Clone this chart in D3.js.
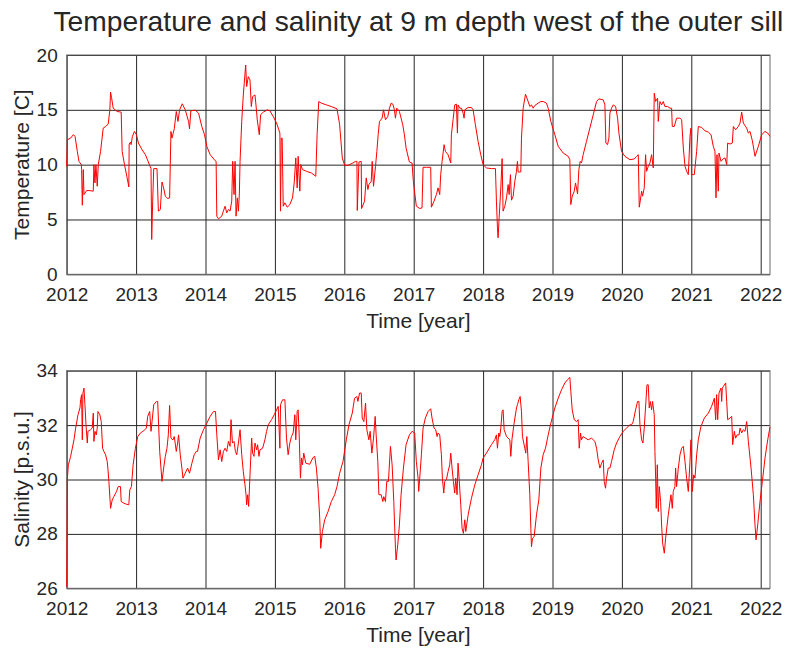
<!DOCTYPE html>
<html>
<head>
<meta charset="utf-8">
<script src="https://cdn.jsdelivr.net/npm/d3@7"></script>
<style>
  body { margin: 0; background: #fff; }
  text { font-family: "Liberation Sans", Arial, Helvetica, sans-serif; fill: #262626; }
</style>
</head>
<body>
<svg id="chart" width="787" height="652"></svg>
<script>
// Mooring record: [decimal year, value]
const temperature = [
[2012.000,9.85],[2012.010,12.27],[2012.057,12.42],[2012.096,12.73],[2012.120,12.58],[2012.153,11.21],[2012.177,10.30],[2012.211,10.00],[2012.215,9.55],[2012.225,6.30],[2012.239,9.55],[2012.249,7.27],[2012.287,7.64],[2012.321,7.64],[2012.383,7.58],[2012.392,10.00],[2012.407,8.33],[2012.421,10.00],[2012.440,8.03],[2012.455,10.00],[2012.488,11.21],[2012.526,13.33],[2012.560,13.48],[2012.598,13.70],[2012.622,15.00],[2012.632,16.61],[2012.646,16.12],[2012.670,15.15],[2012.727,14.85],[2012.785,14.79],[2012.799,11.21],[2012.833,10.00],[2012.871,8.79],[2012.895,7.97],[2012.900,11.88],[2012.919,12.06],[2012.928,11.82],[2012.947,12.58],[2012.976,13.03],[2013.005,12.73],[2013.033,11.97],[2013.086,11.36],[2013.134,10.91],[2013.182,10.15],[2013.215,9.64],[2013.225,3.18],[2013.239,6.67],[2013.254,9.64],[2013.301,9.64],[2013.321,5.76],[2013.349,5.91],[2013.373,8.42],[2013.397,7.88],[2013.421,7.12],[2013.455,6.91],[2013.483,6.97],[2013.502,13.03],[2013.517,12.42],[2013.550,13.27],[2013.579,14.85],[2013.603,13.94],[2013.627,15.00],[2013.665,15.55],[2013.708,15.00],[2013.756,13.94],[2013.770,13.27],[2013.789,14.91],[2013.852,14.97],[2013.900,14.70],[2013.947,13.48],[2013.986,12.73],[2014.019,11.67],[2014.067,10.91],[2014.139,10.36],[2014.153,10.30],[2014.163,5.30],[2014.187,5.06],[2014.234,5.30],[2014.258,5.76],[2014.282,6.21],[2014.306,5.61],[2014.330,5.91],[2014.354,5.76],[2014.378,6.67],[2014.392,10.30],[2014.411,7.27],[2014.426,10.30],[2014.440,5.30],[2014.459,6.97],[2014.474,5.76],[2014.488,7.33],[2014.498,10.30],[2014.522,13.94],[2014.545,16.36],[2014.579,19.09],[2014.593,17.12],[2014.617,18.03],[2014.641,17.73],[2014.660,15.30],[2014.679,16.21],[2014.713,16.36],[2014.727,15.45],[2014.746,14.09],[2014.775,12.73],[2014.794,14.55],[2014.833,14.79],[2014.890,15.00],[2014.928,14.91],[2014.976,14.39],[2015.024,13.79],[2015.072,12.88],[2015.081,5.76],[2015.091,12.42],[2015.105,12.42],[2015.120,6.21],[2015.144,6.52],[2015.177,6.12],[2015.215,6.36],[2015.254,6.97],[2015.278,8.33],[2015.301,10.61],[2015.321,7.88],[2015.335,10.76],[2015.359,7.58],[2015.373,10.00],[2015.397,9.55],[2015.455,9.39],[2015.526,9.24],[2015.589,8.94],[2015.608,12.73],[2015.632,15.76],[2015.670,15.61],[2015.742,15.45],[2015.813,15.30],[2015.895,15.09],[2015.933,13.64],[2015.971,10.61],[2016.005,9.94],[2016.053,9.94],[2016.124,10.15],[2016.163,10.30],[2016.182,10.30],[2016.187,5.82],[2016.211,10.24],[2016.244,10.30],[2016.249,6.00],[2016.292,6.67],[2016.316,8.79],[2016.340,7.73],[2016.354,8.18],[2016.388,8.48],[2016.402,10.30],[2016.421,8.03],[2016.450,9.85],[2016.469,11.21],[2016.488,12.73],[2016.507,13.94],[2016.545,14.24],[2016.565,15.00],[2016.593,14.09],[2016.627,14.39],[2016.651,15.15],[2016.675,15.61],[2016.699,15.52],[2016.722,15.00],[2016.737,14.24],[2016.756,15.15],[2016.794,14.85],[2016.842,13.64],[2016.866,12.73],[2016.890,11.52],[2016.938,10.24],[2016.976,10.15],[2016.995,8.48],[2017.038,6.21],[2017.087,6.00],[2017.120,6.06],[2017.135,9.76],[2017.183,9.76],[2017.245,9.76],[2017.255,6.12],[2017.293,6.67],[2017.327,7.27],[2017.351,7.88],[2017.375,7.27],[2017.389,9.09],[2017.409,10.30],[2017.438,11.82],[2017.457,11.21],[2017.495,10.91],[2017.534,10.15],[2017.543,12.73],[2017.567,14.09],[2017.591,15.45],[2017.615,15.52],[2017.630,12.88],[2017.639,15.45],[2017.663,15.15],[2017.688,15.15],[2017.712,14.70],[2017.726,14.24],[2017.736,15.00],[2017.784,15.21],[2017.832,15.21],[2017.856,15.00],[2017.889,13.64],[2017.928,12.12],[2017.966,10.91],[2018.000,10.00],[2018.048,9.70],[2018.120,9.64],[2018.178,9.64],[2018.192,6.67],[2018.207,4.24],[2018.216,3.33],[2018.231,5.15],[2018.255,7.88],[2018.274,10.55],[2018.288,5.76],[2018.313,6.21],[2018.337,6.97],[2018.361,8.18],[2018.375,7.27],[2018.394,9.09],[2018.409,6.76],[2018.433,7.12],[2018.457,8.48],[2018.481,9.39],[2018.495,10.30],[2018.505,9.33],[2018.543,9.33],[2018.553,12.42],[2018.577,15.15],[2018.611,16.42],[2018.649,15.76],[2018.673,15.30],[2018.697,15.45],[2018.721,15.15],[2018.745,15.39],[2018.793,15.61],[2018.832,15.76],[2018.865,15.76],[2018.913,15.61],[2018.938,15.15],[2018.976,13.94],[2019.034,12.73],[2019.082,11.67],[2019.154,11.06],[2019.226,10.76],[2019.250,10.45],[2019.264,6.36],[2019.284,7.12],[2019.313,7.58],[2019.332,8.33],[2019.361,7.33],[2019.380,9.55],[2019.399,10.30],[2019.418,10.15],[2019.442,10.91],[2019.466,11.52],[2019.490,12.12],[2019.538,13.33],[2019.587,14.55],[2019.635,15.76],[2019.668,16.00],[2019.731,15.91],[2019.755,15.45],[2019.769,11.97],[2019.793,11.82],[2019.813,12.42],[2019.827,14.70],[2019.851,15.15],[2019.875,15.45],[2019.909,15.30],[2019.938,14.24],[2019.957,12.88],[2019.995,11.21],[2020.043,10.76],[2020.115,10.45],[2020.178,10.52],[2020.212,10.76],[2020.236,10.91],[2020.250,6.12],[2020.264,6.67],[2020.284,7.58],[2020.298,7.12],[2020.322,7.88],[2020.341,10.91],[2020.356,9.39],[2020.380,9.85],[2020.404,10.15],[2020.428,10.91],[2020.452,9.70],[2020.466,16.52],[2020.486,15.76],[2020.514,16.06],[2020.524,13.94],[2020.548,15.76],[2020.572,15.45],[2020.596,15.76],[2020.620,15.30],[2020.659,15.30],[2020.692,15.15],[2020.716,15.15],[2020.726,13.48],[2020.755,13.48],[2020.788,14.24],[2020.837,14.24],[2020.861,14.09],[2020.885,11.52],[2020.909,9.85],[2020.933,9.39],[2020.957,9.09],[2020.981,12.58],[2020.995,13.33],[2021.005,9.09],[2021.043,9.09],[2021.077,11.21],[2021.101,13.48],[2021.149,13.39],[2021.197,13.09],[2021.245,12.97],[2021.284,12.73],[2021.317,11.67],[2021.341,11.21],[2021.356,6.97],[2021.370,10.91],[2021.389,7.58],[2021.399,11.06],[2021.428,10.30],[2021.462,10.55],[2021.486,10.61],[2021.510,10.00],[2021.524,11.97],[2021.558,11.88],[2021.591,11.97],[2021.606,13.48],[2021.639,13.18],[2021.678,13.48],[2021.702,13.79],[2021.726,14.79],[2021.750,13.79],[2021.798,13.33],[2021.822,12.88],[2021.846,13.03],[2021.880,12.18],[2021.918,10.76],[2021.966,11.67],[2022.014,12.73],[2022.062,13.03],[2022.101,12.88],[2022.134,12.58]
];

const salinity = [
[2012.000,26.06],[2012.010,30.05],[2012.024,30.54],[2012.057,30.85],[2012.105,31.46],[2012.129,31.89],[2012.163,32.38],[2012.191,32.63],[2012.201,32.93],[2012.215,33.12],[2012.225,31.46],[2012.234,33.18],[2012.249,33.36],[2012.263,32.75],[2012.278,32.01],[2012.297,31.34],[2012.306,31.77],[2012.344,31.83],[2012.368,31.89],[2012.383,32.44],[2012.392,31.40],[2012.407,31.77],[2012.426,31.64],[2012.440,31.89],[2012.450,32.50],[2012.478,32.38],[2012.498,32.13],[2012.517,31.15],[2012.536,31.03],[2012.560,30.91],[2012.584,30.66],[2012.593,30.42],[2012.608,29.93],[2012.632,28.94],[2012.656,29.25],[2012.679,29.37],[2012.718,29.56],[2012.742,29.74],[2012.775,29.74],[2012.785,29.19],[2012.823,29.13],[2012.861,29.09],[2012.895,29.07],[2012.909,29.62],[2012.933,29.74],[2012.957,30.54],[2012.990,31.15],[2013.024,31.58],[2013.062,31.71],[2013.110,31.79],[2013.148,31.89],[2013.167,32.32],[2013.196,32.50],[2013.215,31.77],[2013.230,32.13],[2013.254,32.75],[2013.292,32.87],[2013.311,32.87],[2013.340,31.03],[2013.373,29.93],[2013.397,30.42],[2013.421,30.85],[2013.445,31.15],[2013.464,31.64],[2013.483,32.72],[2013.502,31.52],[2013.531,31.46],[2013.550,31.58],[2013.579,31.03],[2013.598,31.34],[2013.612,31.64],[2013.636,30.91],[2013.660,30.42],[2013.675,30.05],[2013.708,30.23],[2013.742,30.42],[2013.770,30.23],[2013.804,30.60],[2013.837,30.91],[2013.866,31.03],[2013.885,31.03],[2013.923,31.52],[2013.971,31.83],[2014.019,32.07],[2014.067,32.32],[2014.115,32.50],[2014.144,32.50],[2014.163,31.64],[2014.187,30.72],[2014.211,31.09],[2014.234,30.66],[2014.258,31.03],[2014.282,31.15],[2014.306,31.03],[2014.330,31.40],[2014.354,31.22],[2014.368,32.20],[2014.388,31.34],[2014.411,31.40],[2014.431,31.03],[2014.450,30.91],[2014.474,31.34],[2014.498,31.83],[2014.522,30.91],[2014.545,30.29],[2014.569,29.80],[2014.584,29.44],[2014.593,29.07],[2014.608,29.44],[2014.622,29.01],[2014.641,30.17],[2014.665,31.52],[2014.679,30.97],[2014.699,30.85],[2014.713,31.34],[2014.737,31.09],[2014.751,31.28],[2014.770,30.85],[2014.785,31.09],[2014.823,31.15],[2014.856,31.46],[2014.880,31.77],[2014.904,32.01],[2014.952,32.20],[2014.990,32.38],[2015.024,32.56],[2015.048,32.69],[2015.072,31.15],[2015.081,32.75],[2015.110,32.93],[2015.144,32.93],[2015.167,31.52],[2015.191,30.91],[2015.215,31.34],[2015.239,31.58],[2015.263,31.71],[2015.287,32.38],[2015.301,31.46],[2015.321,32.50],[2015.335,32.56],[2015.349,31.71],[2015.368,30.05],[2015.383,30.79],[2015.397,30.54],[2015.416,30.97],[2015.445,30.60],[2015.502,30.56],[2015.550,30.81],[2015.574,30.85],[2015.598,30.42],[2015.622,29.68],[2015.646,28.58],[2015.660,27.47],[2015.684,28.08],[2015.718,28.52],[2015.766,28.82],[2015.813,29.19],[2015.861,29.44],[2015.895,29.74],[2015.933,30.23],[2015.981,30.66],[2016.029,31.46],[2016.067,32.01],[2016.115,32.44],[2016.148,32.99],[2016.182,33.05],[2016.196,32.87],[2016.220,33.18],[2016.244,33.18],[2016.258,32.26],[2016.282,32.13],[2016.306,32.81],[2016.325,31.83],[2016.354,31.46],[2016.373,31.77],[2016.397,30.97],[2016.421,31.52],[2016.445,32.32],[2016.459,31.64],[2016.483,30.66],[2016.498,29.44],[2016.531,29.44],[2016.555,29.19],[2016.569,29.37],[2016.593,29.19],[2016.612,29.93],[2016.636,29.93],[2016.665,31.22],[2016.689,30.54],[2016.713,29.19],[2016.737,27.47],[2016.746,27.04],[2016.770,27.60],[2016.794,28.33],[2016.818,29.44],[2016.852,30.42],[2016.890,31.28],[2016.938,31.64],[2016.976,31.77],[2017.014,31.71],[2017.038,30.66],[2017.063,30.05],[2017.072,29.56],[2017.087,30.05],[2017.111,30.91],[2017.135,31.89],[2017.168,32.26],[2017.207,32.50],[2017.245,32.60],[2017.264,32.26],[2017.293,31.89],[2017.317,31.83],[2017.337,31.58],[2017.351,31.71],[2017.375,31.64],[2017.399,30.91],[2017.413,30.05],[2017.433,29.50],[2017.447,29.93],[2017.471,29.99],[2017.495,30.29],[2017.519,30.54],[2017.534,30.97],[2017.553,30.42],[2017.572,29.93],[2017.591,29.50],[2017.606,30.05],[2017.625,29.44],[2017.639,30.60],[2017.654,30.05],[2017.678,29.07],[2017.697,28.21],[2017.716,28.02],[2017.736,28.52],[2017.750,28.09],[2017.784,28.70],[2017.832,29.31],[2017.880,29.80],[2017.928,30.17],[2017.976,30.54],[2018.000,30.79],[2018.048,30.97],[2018.120,31.28],[2018.168,31.46],[2018.192,31.64],[2018.207,31.15],[2018.226,31.71],[2018.240,31.58],[2018.255,31.89],[2018.274,32.50],[2018.288,32.56],[2018.303,31.83],[2018.337,31.58],[2018.385,31.46],[2018.399,30.85],[2018.418,31.52],[2018.447,32.07],[2018.481,32.63],[2018.495,32.75],[2018.514,32.93],[2018.534,33.05],[2018.553,32.50],[2018.567,31.58],[2018.601,31.15],[2018.615,30.97],[2018.630,31.58],[2018.649,30.66],[2018.673,29.44],[2018.688,28.21],[2018.697,27.53],[2018.712,27.84],[2018.736,27.90],[2018.769,28.70],[2018.803,29.25],[2018.832,30.42],[2018.865,30.91],[2018.899,31.15],[2018.938,31.64],[2018.976,32.07],[2019.034,32.63],[2019.082,32.99],[2019.130,33.30],[2019.178,33.55],[2019.216,33.67],[2019.250,33.75],[2019.264,33.24],[2019.284,32.56],[2019.313,32.20],[2019.346,32.13],[2019.370,32.20],[2019.385,31.15],[2019.404,31.71],[2019.418,31.46],[2019.442,31.58],[2019.476,31.52],[2019.514,31.46],[2019.563,31.52],[2019.611,31.40],[2019.635,31.15],[2019.659,30.72],[2019.683,30.42],[2019.707,30.60],[2019.731,30.72],[2019.745,29.93],[2019.764,29.68],[2019.779,30.05],[2019.803,30.42],[2019.827,30.42],[2019.851,30.66],[2019.889,31.09],[2019.923,31.34],[2019.971,31.58],[2020.019,31.77],[2020.067,31.89],[2020.115,32.01],[2020.139,32.01],[2020.163,32.13],[2020.197,32.56],[2020.226,32.87],[2020.245,32.87],[2020.260,32.01],[2020.284,31.46],[2020.303,31.34],[2020.322,31.89],[2020.346,32.87],[2020.361,33.48],[2020.380,33.48],[2020.394,32.63],[2020.409,32.87],[2020.428,32.56],[2020.442,32.87],[2020.457,32.56],[2020.466,32.38],[2020.476,31.03],[2020.486,30.05],[2020.495,28.94],[2020.510,30.54],[2020.524,28.82],[2020.538,29.74],[2020.558,29.19],[2020.572,28.33],[2020.587,27.66],[2020.611,27.29],[2020.630,27.84],[2020.668,28.70],[2020.707,29.44],[2020.726,28.94],[2020.740,29.56],[2020.764,29.74],[2020.774,30.42],[2020.788,29.74],[2020.813,30.42],[2020.837,30.91],[2020.861,31.15],[2020.885,31.22],[2020.909,30.66],[2020.933,30.05],[2020.957,29.56],[2020.981,30.66],[2020.995,31.46],[2021.014,29.56],[2021.034,30.17],[2021.053,30.05],[2021.077,30.91],[2021.101,31.46],[2021.139,31.95],[2021.188,32.26],[2021.245,32.44],[2021.293,32.69],[2021.332,32.99],[2021.351,32.20],[2021.365,33.12],[2021.380,32.20],[2021.399,33.18],[2021.428,33.36],[2021.438,32.87],[2021.447,33.36],[2021.462,33.42],[2021.495,33.55],[2021.510,32.87],[2021.524,32.20],[2021.558,32.26],[2021.582,32.32],[2021.596,31.28],[2021.620,31.77],[2021.639,31.52],[2021.659,31.64],[2021.688,31.64],[2021.702,31.89],[2021.726,31.71],[2021.750,31.83],[2021.774,31.77],[2021.798,32.13],[2021.822,31.40],[2021.861,30.42],[2021.894,29.44],[2021.918,28.33],[2021.933,27.78],[2021.957,28.33],[2021.990,29.19],[2022.024,29.93],[2022.062,30.79],[2022.101,31.46],[2022.134,31.93]
];

const yearTicks = [2012, 2013, 2014, 2015, 2016, 2017, 2018, 2019, 2020, 2021, 2022];
const timeExtent = [2012, 2022.134];
const tempTicks = [0, 5, 10, 15, 20];
const tempExtent = [0, 20];
const salTicks = [26, 28, 30, 32, 34];
const salExtent = [26, 34];

const titleText = "Temperature and salinity at 9 m depth west of the outer sill";
const xLabelText = "Time [year]";
const tempLabelText = "Temperature [C]";
const salLabelText = "Salinity [p.s.u.]";

const svg = d3.select("#chart");
const left = 66.7, right = 770;
const x = d3.scaleLinear().domain(timeExtent).range([left, right]);

function drawPanel(series, yDomain, yTicks, yLabel, top, bottom) {
  const y = d3.scaleLinear().domain(yDomain).range([bottom, top]);
  const g = svg.append("g");

  // horizontal grid
  g.append("g")
    .attr("transform", `translate(${left},0)`)
    .call(d3.axisLeft(y).tickValues(yTicks).tickSize(-(right - left)).tickFormat(""))
    .call(s => s.select(".domain").remove())
    .call(s => s.selectAll("line").attr("stroke", "#262626").attr("stroke-width", 1));

  // vertical grid
  g.append("g")
    .attr("transform", `translate(0,${bottom})`)
    .call(d3.axisBottom(x).tickValues(yearTicks).tickSize(-(bottom - top)).tickFormat(""))
    .call(s => s.select(".domain").remove())
    .call(s => s.selectAll("line").attr("stroke", "#262626").attr("stroke-width", 1));

  // frame
  g.append("rect")
    .attr("x", left).attr("y", top)
    .attr("width", right - left).attr("height", bottom - top)
    .attr("fill", "none").attr("stroke", "#6b6b6b").attr("stroke-width", 1);

  // data line
  g.append("path")
    .datum(series)
    .attr("fill", "none")
    .attr("stroke", "#ff0000")
    .attr("stroke-width", 1)
    .attr("stroke-linejoin", "round")
    .attr("d", d3.line().x(d => x(d[0])).y(d => y(d[1])));

  // y tick labels
  g.append("g")
    .attr("transform", `translate(${left},0)`)
    .call(d3.axisLeft(y).tickValues(yTicks).tickSize(0).tickPadding(9).tickFormat(d3.format("d")))
    .call(s => s.select(".domain").remove())
    .call(s => s.selectAll("text").attr("font-size", 19).attr("fill", "#262626")
      .style("font-family", '"Liberation Sans", Arial, sans-serif'));

  // x tick labels
  g.append("g")
    .attr("transform", `translate(0,${bottom})`)
    .call(d3.axisBottom(x).tickValues(yearTicks).tickSize(0).tickPadding(13).tickFormat(d3.format("d")))
    .call(s => s.select(".domain").remove())
    .call(s => s.selectAll("text").attr("font-size", 19).attr("fill", "#262626")
      .style("font-family", '"Liberation Sans", Arial, sans-serif'));

  // axis titles
  g.append("text")
    .attr("x", (left + right) / 2).attr("y", bottom + 54)
    .attr("text-anchor", "middle").attr("font-size", 21)
    .text(xLabelText);

  g.append("text")
    .attr("transform", `translate(28.5,${(top + bottom) / 2}) rotate(-90)`)
    .attr("text-anchor", "middle").attr("font-size", 21)
    .text(yLabel);
}

drawPanel(temperature, tempExtent, tempTicks, tempLabelText, 55, 274.3);
drawPanel(salinity, salExtent, salTicks, salLabelText, 370.7, 588.3);

// figure title, fitted to the axes width
const title = svg.append("text")
  .attr("x", (left + right) / 2).attr("y", 31)
  .attr("text-anchor", "middle").attr("font-size", 26)
  .text(titleText);
const w = title.node().getComputedTextLength();
title.attr("font-size", 26 * 730 / w);
</script>
</body>
</html>
